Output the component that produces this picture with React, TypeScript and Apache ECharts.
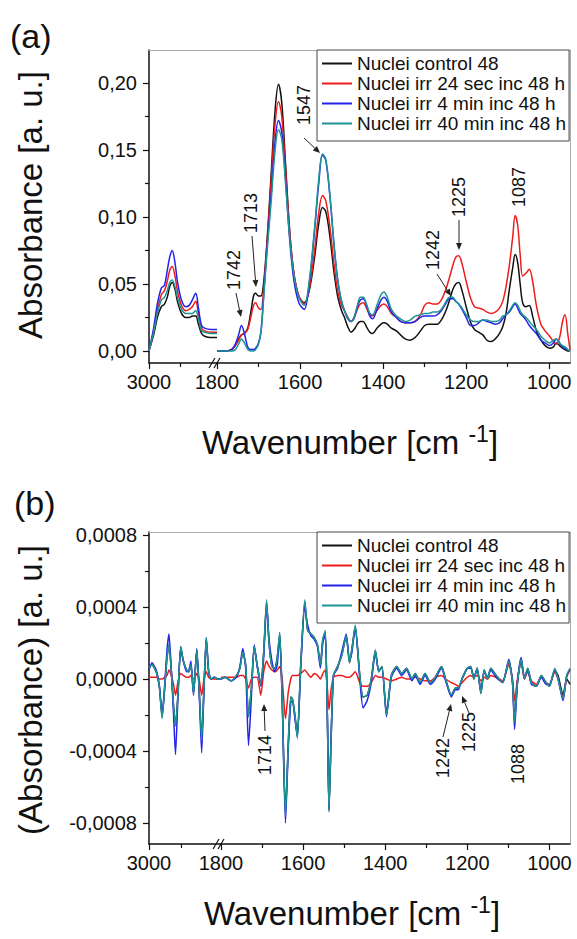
import React, { useEffect, useRef } from "react";
import * as echarts from "echarts";

const FONT = '"Liberation Sans", Arial, Helvetica, sans-serif';
const names = ["Nuclei control 48", "Nuclei irr 24 sec inc 48 h", "Nuclei irr 4 min inc 48 h", "Nuclei irr 40 min inc 48 h"];
const colors = ["#111111", "#ee1c1c", "#2323ea", "#1f9494"];

// ---------- Panel (a) : absorbance ----------
const wnA_L = [3000, 2985, 2973, 2960, 2950, 2941, 2933, 2925, 2916, 2908, 2895, 2881, 2870, 2860, 2849, 2840, 2830, 2820, 2800, 2780];
const blackA_L = [0, 0.012, 0.025, 0.033, 0.035, 0.04, 0.048, 0.051, 0.046, 0.037, 0.028, 0.025, 0.025, 0.026, 0.026, 0.02, 0.013, 0.011, 0.01, 0.01];
const redA_L = [0, 0.015, 0.03, 0.042, 0.045, 0.052, 0.06, 0.063, 0.056, 0.045, 0.034, 0.03, 0.031, 0.033, 0.037, 0.028, 0.017, 0.015, 0.014, 0.014];
const blueA_L = [0, 0.017, 0.035, 0.047, 0.049, 0.06, 0.07, 0.075, 0.066, 0.052, 0.038, 0.033, 0.034, 0.038, 0.043, 0.032, 0.019, 0.017, 0.016, 0.016];
const tealA_L = [0, 0.014, 0.028, 0.038, 0.04, 0.045, 0.051, 0.053, 0.048, 0.04, 0.031, 0.028, 0.028, 0.028, 0.03, 0.024, 0.015, 0.014, 0.013, 0.013];

const wnA_R = [1800, 1780, 1765, 1756, 1748, 1741, 1734, 1726, 1718, 1712,
  1707, 1700, 1694, 1688, 1680, 1670, 1660, 1652, 1644, 1635,
  1625, 1615, 1603, 1590, 1578, 1565, 1555, 1546, 1538, 1528,
  1518, 1509, 1500, 1493, 1485, 1477, 1470, 1462, 1455, 1448,
  1440, 1432, 1425, 1415, 1405, 1398, 1390, 1380, 1368, 1358,
  1347, 1335, 1323, 1310, 1300, 1290, 1280, 1270, 1260, 1250,
  1240, 1232, 1225, 1218, 1210, 1200, 1189, 1180, 1170, 1160,
  1150, 1140, 1130, 1120, 1112, 1104, 1096, 1088, 1082, 1076,
  1070, 1064, 1056, 1048, 1040, 1031, 1020, 1010, 999, 990,
  983, 975, 968, 962, 955, 950];
const blackA_R = [0, 0, 0.001, 0.004, 0.009, 0.012, 0.013, 0.017, 0.03, 0.041,
  0.043, 0.041, 0.041, 0.05, 0.08, 0.13, 0.18, 0.199, 0.185, 0.14,
  0.09, 0.058, 0.041, 0.036, 0.045, 0.07, 0.095, 0.107, 0.104, 0.085,
  0.058, 0.04, 0.03, 0.025, 0.018, 0.014, 0.016, 0.02, 0.022, 0.022,
  0.018, 0.014, 0.013, 0.017, 0.02, 0.021, 0.02, 0.017, 0.015, 0.012,
  0.009, 0.008, 0.01, 0.015, 0.019, 0.02, 0.02, 0.02, 0.023, 0.029,
  0.038, 0.046, 0.05, 0.051, 0.045, 0.033, 0.021, 0.016, 0.014, 0.012,
  0.008, 0.007, 0.009, 0.013, 0.018, 0.028, 0.046, 0.062, 0.072, 0.066,
  0.05, 0.036, 0.033, 0.034, 0.026, 0.015, 0.008, 0.004, 0.002, 0.003,
  0.006, 0.004, 0.002, 0.001, 0, 0];
const redA_R = [0, 0, 0.001, 0.004, 0.008, 0.012, 0.013, 0.016, 0.026, 0.034,
  0.036, 0.032, 0.031, 0.045, 0.078, 0.125, 0.17, 0.186, 0.175, 0.135,
  0.088, 0.058, 0.041, 0.035, 0.046, 0.075, 0.103, 0.116, 0.112, 0.092,
  0.064, 0.044, 0.034, 0.03, 0.025, 0.022, 0.025, 0.031, 0.035, 0.036,
  0.032, 0.027, 0.026, 0.03, 0.034, 0.035, 0.033, 0.028, 0.025, 0.022,
  0.021, 0.021, 0.022, 0.027, 0.034, 0.036, 0.035, 0.035, 0.038, 0.045,
  0.055, 0.064, 0.07, 0.071, 0.065, 0.052, 0.039, 0.033, 0.032, 0.031,
  0.029, 0.028, 0.029, 0.032, 0.037, 0.048, 0.064, 0.085, 0.101, 0.094,
  0.072, 0.056, 0.058, 0.061, 0.052, 0.034, 0.02, 0.015, 0.011, 0.007,
  0.005, 0.01, 0.022, 0.027, 0.012, 0.001];
const blueA_R = [0, 0, 0.001, 0.005, 0.012, 0.019, 0.013, 0.003, 0.001, 0.001,
  0.002, 0.006, 0.015, 0.04, 0.075, 0.115, 0.157, 0.172, 0.163, 0.128,
  0.083, 0.053, 0.036, 0.031, 0.05, 0.09, 0.125, 0.146, 0.142, 0.115,
  0.078, 0.052, 0.037, 0.03, 0.024, 0.022, 0.024, 0.033, 0.038, 0.039,
  0.034, 0.026, 0.024, 0.031, 0.038, 0.04, 0.037, 0.029, 0.025, 0.022,
  0.021, 0.021, 0.022, 0.025, 0.026, 0.026, 0.026, 0.027, 0.03, 0.035,
  0.039, 0.039, 0.037, 0.035, 0.031, 0.025, 0.019, 0.019, 0.021, 0.023,
  0.022, 0.021, 0.02, 0.021, 0.024, 0.027, 0.029, 0.033, 0.035, 0.032,
  0.028, 0.026, 0.023, 0.019, 0.016, 0.013, 0.008, 0.006, 0.004, 0.006,
  0.009, 0.006, 0.003, 0.002, 0.001, 0];
const tealA_R = [0, 0, 0, 0.001, 0.005, 0.009, 0.006, 0.001, 0, 0,
  0.001, 0.005, 0.014, 0.038, 0.072, 0.11, 0.15, 0.165, 0.158, 0.125,
  0.085, 0.057, 0.04, 0.034, 0.052, 0.092, 0.128, 0.147, 0.143, 0.116,
  0.079, 0.052, 0.037, 0.03, 0.025, 0.022, 0.025, 0.034, 0.04, 0.04,
  0.035, 0.028, 0.027, 0.034, 0.042, 0.044, 0.04, 0.031, 0.026, 0.024,
  0.022, 0.023, 0.026, 0.027, 0.028, 0.028, 0.029, 0.029, 0.031, 0.036,
  0.04, 0.04, 0.037, 0.035, 0.032, 0.027, 0.023, 0.022, 0.022, 0.023,
  0.023, 0.022, 0.022, 0.023, 0.026, 0.027, 0.03, 0.034, 0.036, 0.034,
  0.03, 0.027, 0.025, 0.022, 0.019, 0.016, 0.011, 0.008, 0.006, 0.008,
  0.009, 0.006, 0.004, 0.003, 0.001, 0];

// ---------- Panel (b) : derivative ----------
const wnB_L = [3000, 2991, 2978, 2968, 2960, 2952, 2945, 2939, 2932, 2925, 2919, 2912, 2903, 2895, 2885, 2878, 2872, 2864, 2854, 2847, 2839, 2832, 2825, 2818, 2811, 2800, 2790, 2780];
const blackB_L = [0.00006, 0.00008, 0.00004, -0.00005, -0.00021, -0.00005, 0.00012, 0.00019, 0.00005, -0.00015, -0.00026, -0.0001, 0.00017, 0.0001, 0.00005, 0.00004, 0.00008, -0.00008, 0.00016, -0.00005, -0.00033, -0.00005, 0.00022, 0.00005, 0, 0.00001, 0, 0];
const redB_L = [0.00001, 0.00001, 0.00001, 0, 0, 0.00001, 0.00002, 0.00005, 0.00002, -0.00003, -0.00009, -0.00002, 0.00003, 0.00002, 0.00001, 0.00001, 0.00002, 0, 0.00003, 0, -0.00009, 0, 0.00004, 0.00001, 0, 0, 0, 0];
const blueB_L = [0.00005, 0.00009, 0.00005, -0.00004, -0.0002, -0.00003, 0.00016, 0.00025, 0.00006, -0.0002, -0.00042, -0.00012, 0.00018, 0.0001, 0.00004, 0.00005, 0.0001, -0.00009, 0.00017, -0.00006, -0.00041, -0.00006, 0.00023, 0.00004, 0, 0.00001, 0, 0];
const tealB_L = [0.00006, 0.00008, 0.00004, -0.00005, -0.00022, -0.00005, 0.00012, 0.00019, 0.00005, -0.00015, -0.00026, -0.0001, 0.00018, 0.0001, 0.00005, 0.00004, 0.00008, -0.00008, 0.00016, -0.00005, -0.00034, -0.00005, 0.00023, 0.00005, 0, 0.00001, 0, 0];

const wnB_R = [1800, 1790, 1775, 1762, 1754, 1747, 1740, 1733, 1726, 1719,
  1712, 1703, 1696, 1689, 1683, 1676, 1669, 1663, 1657, 1651,
  1643, 1636, 1630, 1626, 1620, 1614, 1606, 1596, 1589, 1581,
  1573, 1565, 1558, 1552, 1546, 1541, 1537, 1532, 1526, 1516,
  1506, 1495, 1487, 1481, 1473, 1462, 1454, 1444, 1434, 1424,
  1416, 1408, 1397, 1385, 1372, 1360, 1348, 1335, 1327, 1315,
  1303, 1290, 1278, 1263, 1253, 1239, 1229, 1222, 1213, 1200,
  1192, 1184, 1176, 1167, 1159, 1151, 1143, 1130, 1114, 1099,
  1090, 1085, 1078, 1069, 1061, 1053, 1044, 1032, 1020, 1008,
  1000, 987, 979, 967, 958, 950];
const blackB_R = [0, 0.00001, -0.00001, 0.00002, 0.00006, 0.00015, 0.00008, -0.00021, -0.00005, 0.00018,
  0.00008, -0.00003, 0.00015, 0.00043, 0.0002, 0.00007, 0.00006, 0.00012, 0.00025, -0.0001,
  -0.00075, -0.00035, -0.0001, -0.00011, -0.0002, -0.00032, 0.00007, 0.00043, 0.00027, 0.00025,
  0.00023, 0.00019, 0.00008, 0.00022, 0.00026, -0.0002, -0.00073, -0.00035, 0.00002, 0.00007,
  0.00013, 0.00024, 0.00009, 0.00017, 0.00029, 0.00002, -0.0001, -0.00009, 0, 0.00016,
  0.00004, 0.00007, -0.00019, 0.00002, 0.00007, 0.00003, 0.00006, 0, 0.00003, -0.00002,
  0.00003, -0.00002, 0.00001, 0.00007, 0, -0.00009, -0.00005, -0.00005, 0, 0.00006,
  0.00007, 0, 0.00006, -0.00008, 0.00005, 0, 0.00006, 0.00002, -0.00002, 0.0001,
  -0.00002, -0.00023, -0.00002, 0.00011, 0, 0.00006, -0.00002, -0.00004, 0.00002, -0.00002,
  -0.00004, 0.00005, 0.00002, -0.00009, 0, -0.00003];
const redB_R = [0.00001, 0.00001, 0.00001, 0.00001, 0.00002, 0.00002, 0, -0.00005, 0, 0.00001,
  0.00001, -0.00009, 0.00004, 0.0001, 0.00007, 0.00005, 0.00004, 0.00005, 0.00007, 0,
  -0.00022, -0.00007, 0, 0.00002, 0.00002, 0.00002, 0.00003, 0.00005, 0.00003, 0.00001,
  0.00003, 0.00002, 0, 0.00003, 0.00005, -0.00005, -0.00017, -0.00006, 0.00001, 0.00002,
  0.00002, 0.00001, 0.00001, 0.00002, 0.00004, -0.00002, -0.00004, -0.00004, -0.00002, 0.00002,
  0.00001, 0.00001, 0, -0.00001, 0, 0.00001, 0, 0, 0.00001, 0,
  -0.00001, -0.00001, 0.00001, 0.00002, 0, -0.00002, -0.00003, -0.00004, -0.00002, 0.00001,
  0.00002, 0.00001, 0.00002, -0.00001, 0.00001, 0, 0.00002, 0.00001, -0.00001, 0.00008,
  0, -0.00012, 0, 0.00009, 0, 0.00004, -0.00001, -0.00003, 0.00001, -0.00002,
  -0.00003, 0.00004, 0, -0.00011, 0.00001, 0.00005];
const blueB_R = [0, 0.00001, -0.00001, 0.00001, 0.00007, 0.00017, 0.00006, -0.00037, -0.0001, 0.00019,
  0.00007, -0.00004, 0.00012, 0.00041, 0.00022, 0.0001, 0.00004, 0.00008, 0.00024, -0.00012,
  -0.0008, -0.00038, -0.00013, -0.00012, -0.00022, -0.00032, 0.00005, 0.0004, 0.0003, 0.00024,
  0.00022, 0.00018, 0.00006, 0.0002, 0.00025, -0.0002, -0.00072, -0.00033, 0.00002, 0.00006,
  0.00015, 0.00025, 0.0001, 0.00015, 0.00029, 0, -0.00016, -0.00012, -0.00002, 0.00015,
  0.00005, 0.00006, -0.00021, 0.00001, 0.00006, 0.00002, 0.00005, -0.00001, 0.00002, -0.00003,
  0.00002, -0.00003, 0, 0.00006, -0.00001, -0.0001, -0.00006, -0.00006, 0, 0.00006,
  0.00006, 0.00001, 0.00006, -0.00007, 0.00004, 0.00001, 0.00005, 0.00001, -0.00002, 0.00011,
  -0.00002, -0.00028, -0.00002, 0.00012, 0.00001, 0.00005, -0.00003, -0.00004, 0.00001, -0.00003,
  -0.00003, 0.00005, 0, -0.00012, 0.00002, 0.00005];
const tealB_R = [0, 0.00001, -0.00001, 0.00002, 0.00006, 0.00015, 0.00008, -0.00021, -0.00005, 0.00018,
  0.00008, -0.00003, 0.00015, 0.00044, 0.0002, 0.00007, 0.00006, 0.00012, 0.00026, -0.0001,
  -0.00076, -0.00035, -0.0001, -0.00011, -0.0002, -0.00033, 0.00007, 0.00044, 0.00027, 0.00025,
  0.00023, 0.00019, 0.00008, 0.00022, 0.00027, -0.0002, -0.00074, -0.00035, 0.00002, 0.00007,
  0.00013, 0.00024, 0.00009, 0.00017, 0.0003, 0.00002, -0.0001, -0.00009, 0, 0.00016,
  0.00004, 0.00007, -0.0002, 0.00002, 0.00007, 0.00003, 0.00006, 0, 0.00003, -0.00002,
  0.00003, -0.00002, 0.00001, 0.00007, 0, -0.00009, -0.00005, -0.00005, 0, 0.00006,
  0.00007, 0, 0.00006, -0.00008, 0.00005, 0, 0.00006, 0.00002, -0.00002, 0.0001,
  -0.00002, -0.00024, -0.00002, 0.00011, 0, 0.00006, -0.00002, -0.00004, 0.00002, -0.00002,
  -0.00004, 0.00006, 0, -0.00011, 0.00002, 0.00006];

// ticks
const xLabelsL = [3000];
const xMinorL = [2900];
const xLabelsR = [1800, 1600, 1400, 1200, 1000];
const xMinorR = [1700, 1500, 1300, 1100];
const yLabelsA = [0, 0.05, 0.1, 0.15, 0.2];
const yMinorA = [0.025, 0.075, 0.125, 0.175];
const yLabelsB = [-0.0008, -0.0004, 0, 0.0004, 0.0008];
const yMinorB = [-0.0006, -0.0002, 0.0002, 0.0006];

const A_MIN = -0.009, A_MAX = 0.2246;
const B_MIN = -0.000917, B_MAX = 0.000817;

function pairs(wn: number[], v: number[]) {
  return wn.map((w, i) => [w, v[i]]);
}

function xMain(gridIndex: number, min: number, max: number, labels: number[], ticks: number[]) {
  return {
    type: "value", gridIndex, position: "bottom", min, max, inverse: true,
    axisLine: { show: true, onZero: false, lineStyle: { color: "#111", width: 1.5 } },
    axisTick: { show: true, customValues: ticks, length: 6, lineStyle: { color: "#111", width: 1.2 } },
    axisLabel: {
      show: true, customValues: labels, margin: 9, fontSize: 20, color: "#111", fontFamily: FONT,
      formatter: (v: number) => String(Math.round(v)),
    },
    splitLine: { show: false },
  };
}
function xMinor(gridIndex: number, min: number, max: number, ticks: number[]) {
  return {
    type: "value", gridIndex, position: "bottom", min, max, inverse: true,
    axisLine: { show: false, onZero: false },
    axisTick: { show: true, customValues: ticks, length: 4, lineStyle: { color: "#111", width: 1.2 } },
    axisLabel: { show: false },
    splitLine: { show: false },
  };
}
function xTop(gridIndex: number, min: number, max: number) {
  return {
    type: "value", gridIndex, position: "top", min, max, inverse: true,
    axisLine: { show: true, onZero: false, lineStyle: { color: "#aaaaaa", width: 1 } },
    axisTick: { show: false }, axisLabel: { show: false }, splitLine: { show: false },
  };
}
function yMain(gridIndex: number, min: number, max: number, labels: number[], digits: number) {
  return {
    type: "value", gridIndex, position: "left", min, max,
    axisLine: { show: true, onZero: false, lineStyle: { color: "#111", width: 1.5 } },
    axisTick: { show: true, customValues: labels, length: 6, lineStyle: { color: "#111", width: 1.2 } },
    axisLabel: {
      show: true, customValues: labels, margin: 12, fontSize: 20, color: "#111", fontFamily: FONT,
      formatter: (v: number) => (Math.abs(v) < 1e-12 ? 0 : v).toFixed(digits).replace(".", ","),
    },
    splitLine: { show: false },
  };
}
function yMinor(gridIndex: number, min: number, max: number, ticks: number[]) {
  return {
    type: "value", gridIndex, position: "left", min, max,
    axisLine: { show: false, onZero: false },
    axisTick: { show: true, customValues: ticks, length: 4, lineStyle: { color: "#111", width: 1.2 } },
    axisLabel: { show: false }, splitLine: { show: false },
  };
}
function yRight(gridIndex: number, min: number, max: number) {
  return {
    type: "value", gridIndex, position: "right", min, max,
    axisLine: { show: true, onZero: false, lineStyle: { color: "#aaaaaa", width: 1 } },
    axisTick: { show: false }, axisLabel: { show: false }, splitLine: { show: false },
  };
}

function lineSeries(name: string, color: string, data: number[][], xi: number, yi: number, smooth: number) {
  return {
    type: "line", name, data, xAxisIndex: xi, yAxisIndex: yi, symbol: "none", smooth,
    lineStyle: { color, width: 1.5 }, itemStyle: { color }, silent: true, clip: true,
    emphasis: { disabled: true },
  };
}

function arrow(x1: number, y1: number, x2: number, y2: number) {
  const dx = x2 - x1, dy = y2 - y1;
  const L = Math.hypot(dx, dy);
  const ux = dx / L, uy = dy / L;
  const hl = 7, hw = 3;
  const bx = x2 - ux * hl, by = y2 - uy * hl;
  return [
    { type: "line", shape: { x1, y1, x2: bx, y2: by }, style: { stroke: "#222", lineWidth: 1 }, z: 50 },
    { type: "polygon", shape: { points: [[x2, y2], [bx - uy * hw, by + ux * hw], [bx + uy * hw, by - ux * hw]] }, style: { fill: "#222" }, z: 50 },
  ];
}
function vtext(text: string, x: number, y: number, size: number) {
  return {
    type: "text", x, y, rotation: Math.PI / 2, z: 50,
    style: { text, fontSize: size, fill: "#111", align: "center", verticalAlign: "middle", fontFamily: FONT },
  };
}
function htext(text: string, x: number, y: number, size: number, align = "left") {
  return {
    type: "text", x, y, z: 50,
    style: { text, fontSize: size, fill: "#111", align, verticalAlign: "middle", fontFamily: FONT },
  };
}
function xTitle(x: number, y: number) {
  return {
    type: "text", x, y, z: 50,
    style: {
      text: "{n|Wavenumber [cm }{s|-1}{n|]}", align: "center", verticalAlign: "middle",
      rich: {
        n: { fontSize: 33, lineHeight: 40, fill: "#111", fontFamily: FONT },
        s: { fontSize: 23, lineHeight: 23, verticalAlign: "top", fill: "#111", fontFamily: FONT },
      },
    },
  };
}
function breakMarks(x: number, y: number) {
  return [0, 5].map((d) => ({
    type: "line", z: 50,
    shape: { x1: x - 3 + d, y1: y + 5, x2: x + 3 + d, y2: y - 5 },
    style: { stroke: "#111", lineWidth: 1.2 },
  }));
}

function legend(top: number) {
  return {
    left: 317, top, orient: "vertical", data: names, selectedMode: false,
    icon: "rect", itemWidth: 30, itemHeight: 2, itemGap: 1, padding: [4, 3, 8, 5],
    borderColor: "#444", borderWidth: 1, backgroundColor: "#ffffff",
    textStyle: { fontSize: 19, color: "#111", fontFamily: FONT, lineHeight: 18 },
  };
}

export default function App() {
  const ref = useRef<HTMLDivElement>(null);
  useEffect(() => {
    if (!ref.current) return;
    const chart = echarts.init(ref.current, null, { renderer: "svg" });
    const A_L = [blackA_L, redA_L, blueA_L, tealA_L];
    const A_R = [blackA_R, redA_R, blueA_R, tealA_R];
    const B_L = [blackB_L, redB_L, blueB_L, tealB_L];
    const B_R = [blackB_R, redB_R, blueB_R, tealB_R];
    const series: any[] = [];
    for (let i = 0; i < 4; i++) {
      series.push(lineSeries(names[i], colors[i], pairs(wnA_L, A_L[i]), 0, 0, 0.35));
      series.push(lineSeries(names[i], colors[i], pairs(wnA_R, A_R[i]), 3, 2, 0.35));
      series.push(lineSeries(names[i], colors[i], pairs(wnB_L, B_L[i]), 6, 3, 0.2));
      series.push(lineSeries(names[i], colors[i], pairs(wnB_R, B_R[i]), 9, 5, 0.2));
    }
    const graphic: any[] = [
      htext("(a)", 10, 36, 34),
      htext("(b)", 14, 503, 34),
      vtext("Absorbance [a. u.]", 30, 205, 33),
      vtext("(Absorbance) [a. u.]", 30, 690, 33),
      xTitle(350, 442),
      xTitle(352, 913),
      ...breakMarks(212, 363),
      ...breakMarks(216, 844),
      // panel a annotations
      vtext("1742", 234, 270, 18), ...arrow(236, 293, 241, 317),
      vtext("1713", 251, 213, 18), ...arrow(252, 236, 256, 287),
      vtext("1547", 304, 105, 18), ...arrow(304, 138, 320, 153),
      vtext("1242", 433, 250, 18), ...arrow(437, 274, 451, 296),
      vtext("1225", 459, 197, 18), ...arrow(459, 220, 459, 250),
      vtext("1087", 519, 187, 18),
      // panel b annotations
      vtext("1714", 265, 755, 18), ...arrow(265, 731, 264, 704),
      vtext("1242", 443, 758, 18), ...arrow(443, 737, 451, 704),
      vtext("1225", 469, 732, 18), ...arrow(469, 713, 462, 696),
      vtext("1088", 518, 764, 18),
    ];
    chart.setOption({
      animation: false,
      textStyle: { fontFamily: FONT },
      grid: [
        { left: 149, top: 50, width: 68, height: 313 },
        { left: 217, top: 50, width: 353, height: 313 },
        { left: 149, top: 532, width: 72, height: 312 },
        { left: 221, top: 532, width: 349, height: 312 },
      ],
      xAxis: [
        xMain(0, 2780, 3000, xLabelsL, xLabelsL), xMinor(0, 2780, 3000, xMinorL), xTop(0, 2780, 3000),
        xMain(1, 950, 1800, xLabelsR, xLabelsR), xMinor(1, 950, 1800, xMinorR), xTop(1, 950, 1800),
        xMain(2, 2780, 3000, xLabelsL, xLabelsL), xMinor(2, 2780, 3000, xMinorL), xTop(2, 2780, 3000),
        xMain(3, 950, 1800, xLabelsR, xLabelsR), xMinor(3, 950, 1800, xMinorR), xTop(3, 950, 1800),
      ],
      yAxis: [
        yMain(0, A_MIN, A_MAX, yLabelsA, 2), yMinor(0, A_MIN, A_MAX, yMinorA), yRight(1, A_MIN, A_MAX),
        yMain(2, B_MIN, B_MAX, yLabelsB, 4), yMinor(2, B_MIN, B_MAX, yMinorB), yRight(3, B_MIN, B_MAX),
      ],
      legend: [legend(50), legend(532)],
      series,
      graphic,
    });
    return () => chart.dispose();
  }, []);
  return <div ref={ref} style={{ position: "absolute", left: 0, top: 0, width: 577, height: 939, background: "#fff" }} />;
}
